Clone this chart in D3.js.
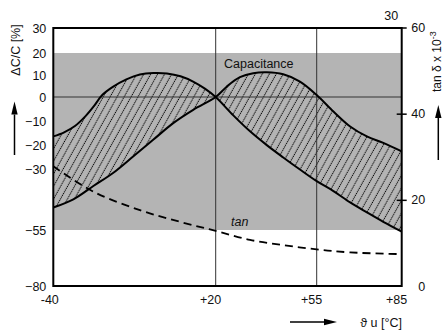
<!DOCTYPE html>
<html>
<head>
<meta charset="utf-8">
<script src="https://cdn.jsdelivr.net/npm/d3@7/dist/d3.min.js"></script>
<style>
  html, body { margin: 0; padding: 0; background: #fff; }
  svg { display: block; font-family: "Liberation Sans", Arial, Helvetica, sans-serif; }
  text { fill: #111; }
</style>
</head>
<body>
<svg id="chart" width="443" height="331"></svg>
<script>
// Temperature ticks (°C) and their labels
const tempTicks = [-40, 20, 55, 85];
const tempGridLines = [20, 55];

// Left axis: capacitance change ΔC/C in %
const capTicks = [30, 20, 10, 0, -10, -20, -30, -55, -80];
const capBand = [20, -55];            // tolerance band limits

// Right axis: tan δ × 10^-3
const tanTicks = [0, 20, 40, 60];

// Capacitance envelope, curve peaking at low temperature
const capTempA = [-40, -36, -32, -28, -25, -22, -18, -13, -8, -3, 2, 7, 12, 16, 20,
                  26.1, 31.9, 37.7, 43.4, 49.2, 55, 60.9, 66.8, 72.7, 78.5, 85];
const capValA  = [-16.3, -14.6, -12.0, -7.8, -3.8, 0.8, 4.6, 8.0, 10.2, 10.9, 10.7, 9.4, 6.8, 3.8, 0,
                  -7.6, -14.2, -19.9, -25.0, -30.0, -34.8, -38.9, -43.6, -47.7, -51.6, -55.7];

// Capacitance envelope, curve peaking at high temperature
const capTempB = [-40, -32.6, -25.2, -17.8, -10.4, -3.1, 4.3, 11.7, 20,
                  23.8, 28.4, 33.0, 37.7, 43.4, 49.2, 55, 60.9, 66.8, 72.7, 78.5, 85];
const capValB  = [-45.7, -42.3, -36.8, -31.3, -24.5, -17.7, -10.8, -5.3, 0,
                  4.7, 9.0, 10.8, 11.2, 10.3, 7.0, 0.9, -6.0, -12.2, -16.3, -19.0, -22.5];

// Dissipation factor tan δ (× 10^-3)
const tanTemp = [-40, -25.2, -8.0, 6.8, 20, 31.9, 43.4, 55, 66.8, 85];
const tanVal  = [27.8, 21.9, 17.6, 14.9, 12.8, 10.7, 9.5, 8.5, 7.8, 7.4];

const svg = d3.select("#chart");
const plot = { left: 53.3, right: 401.7, top: 28, bottom: 286 };

const x = d3.scaleLinear()
  .domain([-40, 20, 55, 85])
  .range([plot.left, 215.7, 316.7, plot.right]);

const y = d3.scaleLinear()
  .domain([30, 20, 0, -55, -80])
  .range([plot.top, 53, 97, 230, plot.bottom]);

const y2 = d3.scaleLinear()
  .domain([0, 60])
  .range([plot.bottom, 27.5]);

// Hatch pattern for the spread between the two envelope curves
const defs = svg.append("defs");
const pat = defs.append("pattern")
  .attr("id", "hatch")
  .attr("patternUnits", "userSpaceOnUse")
  .attr("width", 6.1)
  .attr("height", 4)
  .attr("patternTransform", "rotate(29)");
pat.append("line")
  .attr("x1", 3).attr("y1", 0).attr("x2", 3).attr("y2", 4)
  .attr("stroke", "#000")
  .attr("stroke-width", 1)
  .attr("stroke-dasharray", "1.2,0.8");

// Tolerance band
svg.append("rect")
  .attr("x", plot.left)
  .attr("width", plot.right - plot.left)
  .attr("y", y(capBand[0]))
  .attr("height", y(capBand[1]) - y(capBand[0]))
  .attr("fill", "#b4b4b4");

const ptsA = capTempA.map((t, i) => [t, capValA[i]]);
const ptsB = capTempB.map((t, i) => [t, capValB[i]]);
const tanPts = tanTemp.map((t, i) => [t, tanVal[i]]);

const capLine = d3.line()
  .x(d => x(d[0]))
  .y(d => y(d[1]))
  .curve(d3.curveCatmullRom.alpha(0.5));

// Hatched region: curve A forward, curve B back again
const pathA = capLine(ptsA);
const pathB = capLine(ptsB.slice().reverse());
svg.append("path")
  .attr("d", pathA + pathB.replace(/^M/, "L") + "Z")
  .attr("fill", "url(#hatch)")
  .attr("stroke", "none");

// Reference lines: 0 % and the +20 / +55 °C verticals
svg.append("line")
  .attr("x1", plot.left).attr("x2", plot.right)
  .attr("y1", y(0)).attr("y2", y(0))
  .attr("stroke", "#333").attr("stroke-width", 1);

svg.selectAll("line.vgrid")
  .data(tempGridLines)
  .join("line")
  .attr("class", "vgrid")
  .attr("x1", d => x(d)).attr("x2", d => x(d))
  .attr("y1", plot.top).attr("y2", plot.bottom)
  .attr("stroke", "#333").attr("stroke-width", 1);

// Envelope curves
[ptsA, ptsB].forEach(pts => {
  svg.append("path")
    .attr("d", capLine(pts))
    .attr("fill", "none")
    .attr("stroke", "#000")
    .attr("stroke-width", 2);
});

// tan δ curve
const tanLine = d3.line()
  .x(d => x(d[0]))
  .y(d => y2(d[1]))
  .curve(d3.curveCatmullRom.alpha(0.5));
svg.append("path")
  .attr("d", tanLine(tanPts))
  .attr("fill", "none")
  .attr("stroke", "#000")
  .attr("stroke-width", 1.8)
  .attr("stroke-dasharray", "8,5");

// Frame
svg.append("rect")
  .attr("x", plot.left).attr("y", plot.top)
  .attr("width", plot.right - plot.left)
  .attr("height", plot.bottom - plot.top)
  .attr("fill", "none")
  .attr("stroke", "#000")
  .attr("stroke-width", 2);

// Left axis
svg.append("g")
  .attr("transform", `translate(${plot.left},0)`)
  .call(d3.axisLeft(y).tickValues(capTicks).tickSize(0).tickPadding(7))
  .call(g => g.select(".domain").remove())
  .call(g => g.selectAll("text").attr("font-size", 12.5).attr("fill", "#111"));

// Right axis
svg.append("g")
  .attr("transform", `translate(${plot.right},0)`)
  .call(d3.axisRight(y2).tickValues(tanTicks).tickSize(5).tickPadding(0))
  .call(g => g.select(".domain").remove())
  .call(g => g.selectAll(".tick line")
    .attr("x1", -5).attr("stroke", "#000").attr("stroke-width", 1.5)
    .filter(d => d === 0).remove())
  .call(g => g.selectAll("text")
    .attr("text-anchor", "end").attr("x", 23.5)
    .attr("font-size", 12.5).attr("fill", "#111"));

// Bottom axis
svg.append("g")
  .attr("transform", `translate(0,${plot.bottom})`)
  .call(d3.axisBottom(x).tickValues(tempTicks).tickSize(0).tickPadding(9)
    .tickFormat(d => d > 0 ? "+" + d : String(d)))
  .call(g => g.select(".domain").remove())
  .call(g => g.selectAll("text")
    .attr("text-anchor", "end").attr("dx", 5)
    .attr("font-size", 12.5).attr("fill", "#111"));

// Label above the right axis top
svg.append("text")
  .attr("x", x(85) - 3.5).attr("y", 19.5)
  .attr("text-anchor", "end")
  .attr("font-size", 12.5)
  .text("30");

// Curve labels
svg.append("text")
  .attr("x", 224).attr("y", 67.5)
  .attr("font-size", 12.5)
  .text("Capacitance");

svg.append("text")
  .attr("x", 231).attr("y", 226)
  .attr("font-size", 12.5)
  .attr("font-style", "italic")
  .text("tan");

// Axis titles
svg.append("text")
  .attr("transform", "translate(19.5,50) rotate(-90)")
  .attr("text-anchor", "middle")
  .attr("font-size", 12.5)
  .text("ΔC/C [%]");

const rt = svg.append("text")
  .attr("transform", "translate(440.5,92) rotate(-90)")
  .attr("text-anchor", "start")
  .attr("font-size", 12);
rt.append("tspan").text("tan δ x 10");
rt.append("tspan").attr("dy", -5).attr("font-size", 9).text("-3");

svg.append("text")
  .attr("x", 402).attr("y", 326.5)
  .attr("text-anchor", "end")
  .attr("font-size", 12.5)
  .text("ϑ u [°C]");

// Direction arrows
function arrow(x1, y1, x2, y2) {
  const ang = Math.atan2(y2 - y1, x2 - x1);
  const len = 13, hw = 3.2;
  const bx = x2 - len * Math.cos(ang), by = y2 - len * Math.sin(ang);
  svg.append("line")
    .attr("x1", x1).attr("y1", y1).attr("x2", bx).attr("y2", by)
    .attr("stroke", "#000").attr("stroke-width", 1.5);
  const px = -Math.sin(ang) * hw, py = Math.cos(ang) * hw;
  svg.append("path")
    .attr("d", `M${x2},${y2}L${bx + px},${by + py}L${bx - px},${by - py}Z`)
    .attr("fill", "#000");
}
arrow(14.5, 155, 14.5, 101.5);
arrow(438.3, 160, 438.3, 105);
arrow(290, 322, 337, 322);
</script>
</body>
</html>
